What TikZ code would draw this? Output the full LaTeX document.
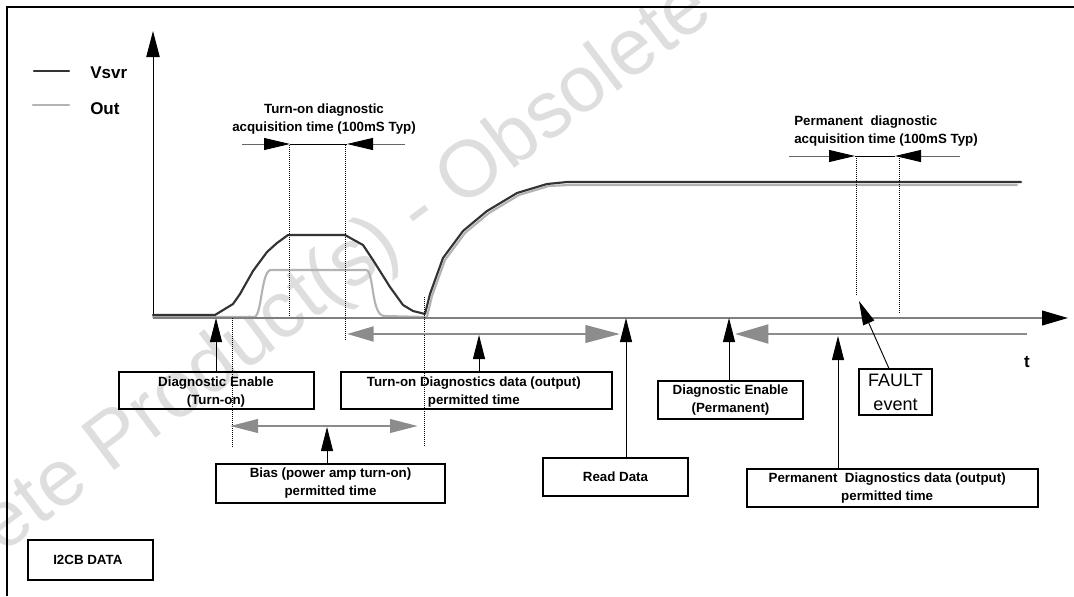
\documentclass[tikz,border=0pt]{standalone}
\usepackage{fontspec}
\setmainfont{Liberation Sans}
\usetikzlibrary{arrows.meta,fit}
\definecolor{vsvr}{HTML}{333333}
\definecolor{outc}{HTML}{B3B3B3}
\definecolor{axisg}{HTML}{7F7F7F}
\definecolor{garrow}{HTML}{8C8C8C}
\definecolor{acqg}{HTML}{666666}
\definecolor{wmc}{HTML}{DEDEDE}
\begin{document}
\begin{tikzpicture}[x=0.75pt,y=-0.75pt,
  hdr/.style={font=\bfseries\fontsize{10}{13.5}\selectfont, align=center, inner sep=0pt},
  tbox/.style={draw=black, line width=0.8pt, inner sep=0pt},
  btxt/.style={font=\bfseries\fontsize{10}{13.5}\selectfont, align=center, inner sep=0pt},
  leg/.style={font=\bfseries\fontsize{12.75}{15}\selectfont, anchor=west, inner sep=0pt},
  wave/.style={line width=1.6pt, line join=round, line cap=round},
  dotv/.style={densely dotted, line width=0.5pt},
  ptr/.style={line width=0.7pt, -{Triangle[length=18pt,width=9pt]}},
  acq/.style={draw=acqg, line width=0.7pt, -{Triangle[length=19.5pt,width=9pt,black]}},
  gar/.style={draw=garrow, line width=2.2pt}
]
\useasboundingbox (0,0) rectangle (1074,596);

% watermark
\begin{scope}
  \clip (0,0) rectangle (1074,596);
  \node[text=wmc, rotate=37, font=\fontsize{60}{60}\selectfont, inner sep=0pt] (wmk) at (420,214)
    {Obsolete Product(s) - Obsolete Product(s)};
\end{scope}

% frame
\draw[line width=1.5pt] (7,596) -- (7,7) -- (1074,7);

% axes
\coordinate (O) at (153,318);
\coordinate (ytop) at (153,31);
\coordinate (xend) at (1068,318);
\draw[line width=0.75pt, -{Triangle[length=19.5pt,width=10pt]}] (O) -- (ytop);

% legend
\coordinate (l1a) at (34,71); \coordinate (l1b) at (69,71);
\coordinate (l2a) at (33,105); \coordinate (l2b) at (69,105);
\draw[wave, draw=vsvr] (l1a) -- (l1b);
\draw[wave, draw=outc] (l2a) -- (l2b);
\node[leg] (lv) at (90,73) {Vsvr};
\node[leg] (lo) at (90,109) {Out};

% Out waveform
\draw[wave, draw=outc] (153,317) -- (254,317) .. controls (262,317) and (261,270) .. (271,270)
   -- (366,270) .. controls (374,270) and (371,315) .. (384,316) -- (427,317)
   -- (432,296) -- (445,260) -- (465,233) -- (489,213) -- (519,195) -- (549,186) -- (569,185) -- (1017,185);
% x axis
\draw[draw=axisg, line width=1.5pt, -{Triangle[length=19.5pt,width=11pt,black]}] (O) -- (xend);
% Vsvr waveform
\draw[wave, draw=vsvr] (153,315) -- (215,315) -- (233,304) -- (240,294) -- (253,271) -- (267,252)
   -- (277,243) -- (288,235) -- (345,235) -- (363,245) -- (373,260) -- (390,287) -- (403,305)
   -- (413,311) -- (425,314) -- (430,294) -- (443,258) -- (463,231) -- (487,211) -- (517,193)
   -- (547,184) -- (567,182) -- (1021,182);

% dotted markers
\draw[dotv] (289,145) -- (289,316);
\draw[dotv] (345,145) -- (345,340);
\draw[dotv] (232,318) -- (232,447);
\draw[dotv] (424,297) -- (424,446);
\draw[dotv] (856,156) -- (856,296);
\draw[dotv] (899,156) -- (899,313);

% turn-on acquisition time
\node[hdr] (h1) at (324,119) {Turn-on diagnostic\\acquisition time (100mS Typ)};
\coordinate (a1) at (242,144); \coordinate (a2) at (290,144);
\coordinate (a3) at (347,144); \coordinate (a4) at (405,144);
\draw[acq] (a1) -- (a2);
\draw[acq] (a4) -- (a3);
\draw[line width=0.6pt] (a2) -- (a3);

% permanent acquisition time
\node[hdr, align=left, anchor=west] (h2) at (794,131) {Permanent~ diagnostic\\acquisition time (100mS Typ)};
\coordinate (b1) at (789,156); \coordinate (b2) at (855,156);
\coordinate (b3) at (895,156); \coordinate (b4) at (960,156);
\draw[acq] (b1) -- (b2);
\draw[acq] (b4) -- (b3);
\draw[line width=0.6pt] (b2) -- (b3);

% grey permitted-time arrows
\coordinate (g1a) at (347,334); \coordinate (g1b) at (620,334);
\coordinate (g2a) at (230,426); \coordinate (g2b) at (418,426);
\coordinate (g3a) at (1027,334); \coordinate (g3b) at (735,334);
\draw[gar, {Triangle[length=20pt,width=11pt]}-{Triangle[length=26pt,width=13pt]}] (g1a) -- (g1b);
\draw[gar, {Triangle[length=21pt,width=10pt]}-{Triangle[length=21pt,width=10pt]}] (g2a) -- (g2b);
\draw[gar, -{Triangle[length=25pt,width=14pt]}] (g3a) -- (g3b);

% boxes
\node[tbox, fit={(119,372) (314,409)}] (de1) {};
\node[tbox, fit={(341,372) (612,409)}] (tdd) {};
\node[tbox, fit={(216,464) (445,503)}] (bias) {};
\node[tbox, fit={(543,458) (688,496)}] (rd) {};
\node[tbox, fit={(658,381) (803,419)}] (dep) {};
\node[tbox, fit={(747,469) (1038,507)}] (pdd) {};
\node[tbox, fit={(28,540) (153,580)}] (i2c) {};
\node[tbox, fit={(859,369) (932,415)}] (fault) {};

\node[btxt] (de1t) at ([xshift=-0.4pt,yshift=-1.5pt]de1.center) {Diagnostic Enable\\(Turn-on)};
\node[btxt] (tddt) at ([xshift=-2pt,yshift=-1.5pt]tdd.center) {Turn-on Diagnostics data (output)\\permitted time};
\node[btxt] (biast) at (bias.center) {Bias (power amp turn-on)\\permitted time};
\node[btxt] (rdt) at (rd.center) {Read Data};
\node[btxt] (dept) at (dep.center) {Diagnostic Enable\\(Permanent)};
\node[btxt] (pddt) at ([xshift=-4pt]pdd.center) {Permanent~ Diagnostics data (output)\\permitted time};
\node[btxt] (i2ct) at ([xshift=-2pt]i2c.center) {I2CB DATA};
\node[font=\fontsize{13.5}{18}\selectfont, align=center, inner sep=0pt] (faultt) at (fault.center) {FAULT\\event};

\node[font=\bfseries\fontsize{12.75}{15}\selectfont, inner sep=0pt] (tl) at (1027,362) {t};

% pointer arrows
\coordinate (p1) at (216,318);
\coordinate (p2) at (479,335);
\coordinate (p3) at (626,318);
\coordinate (p4) at (729,318);
\coordinate (p5) at (838,336);
\coordinate (p6) at (327,427);
\coordinate (p7) at (859,301);
\draw[ptr] (de1.north -| p1) -- (p1);
\draw[ptr] (tdd.north -| p2) -- (p2);
\draw[ptr] (rd.north -| p3) -- (p3);
\draw[ptr] (dep.north -| p4) -- (p4);
\draw[ptr] (pdd.north -| p5) -- (p5);
\draw[ptr] (bias.north -| p6) -- (p6);
\draw[ptr] ([xshift=-4.9pt]fault.north) -- (p7);
\end{tikzpicture}
\end{document}
